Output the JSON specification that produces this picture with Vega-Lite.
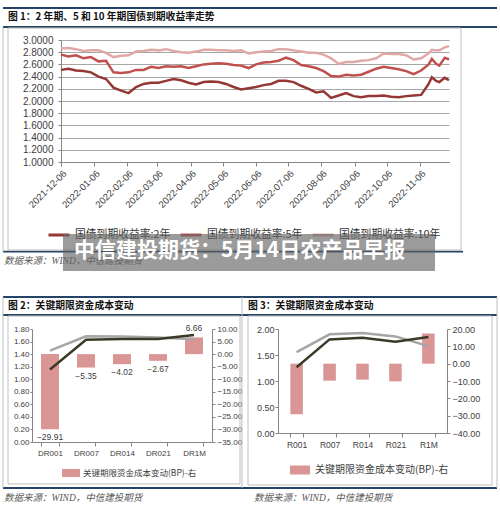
{
  "$schema": "https://vega.github.io/schema/vega-lite/v6.json",
  "background": "white",
  "padding": {"left": 2, "top": 7, "right": 0, "bottom": 0},
  "config": {
    "view": {"stroke": null},
    "axis": {"labelColor": "#404040", "labelFont": "Liberation Sans", "domainColor": "#868686", "tickColor": "#868686", "labelOverlap": false}
  },
  "bounds": "flush",
  "spacing": 289,
  "resolve": {"scale": {"color": "independent"}, "legend": {"color": "independent"}},
  "vconcat": [
    {
      "bounds": "flush",
      "spacing": 28,
      "resolve": {"scale": {"color": "independent"}, "legend": {"color": "independent"}},
      "hconcat": [
        {"width": 1, "height": 1, "data": {"values": []}, "mark": "point"},
        {
          "width": 388,
          "height": 122,
          "data": {"values": [
            {"date": "2021-12-06", "国债到期收益率:2年": 2.51, "国债到期收益率:5年": 2.76, "国债到期收益率:10年": 2.86},
            {"date": "2021-12-13", "国债到期收益率:2年": 2.53, "国债到期收益率:5年": 2.73, "国债到期收益率:10年": 2.87},
            {"date": "2021-12-20", "国债到期收益率:2年": 2.50, "国债到期收益率:5年": 2.75, "国债到期收益率:10年": 2.85},
            {"date": "2021-12-27", "国债到期收益率:2年": 2.49, "国债到期收益率:5年": 2.70, "国债到期收益率:10年": 2.82},
            {"date": "2022-01-03", "国债到期收益率:2年": 2.47, "国债到期收益率:5年": 2.72, "国债到期收益率:10年": 2.83},
            {"date": "2022-01-10", "国债到期收益率:2年": 2.40, "国债到期收益率:5年": 2.65, "国债到期收益率:10年": 2.83},
            {"date": "2022-01-17", "国债到期收益率:2年": 2.36, "国债到期收益率:5年": 2.66, "国债到期收益率:10年": 2.79},
            {"date": "2022-01-24", "国债到期收益率:2年": 2.22, "国债到期收益率:5年": 2.47, "国债到期收益率:10年": 2.72},
            {"date": "2022-01-31", "国债到期收益率:2年": 2.17, "国债到期收益率:5年": 2.46, "国债到期收益率:10年": 2.74},
            {"date": "2022-02-07", "国债到期收益率:2年": 2.13, "国债到期收益率:5年": 2.47, "国债到期收益率:10年": 2.75},
            {"date": "2022-02-14", "国债到期收益率:2年": 2.23, "国债到期收益率:5年": 2.51, "国债到期收益率:10年": 2.81},
            {"date": "2022-02-21", "国债到期收益率:2年": 2.28, "国债到期收益率:5年": 2.51, "国债到期收益率:10年": 2.82},
            {"date": "2022-02-28", "国债到期收益率:2年": 2.30, "国债到期收益率:5年": 2.56, "国债到期收益率:10年": 2.84},
            {"date": "2022-03-07", "国债到期收益率:2年": 2.30, "国债到期收益率:5年": 2.54, "国债到期收益率:10年": 2.83},
            {"date": "2022-03-14", "国债到期收益率:2年": 2.33, "国债到期收益率:5年": 2.57, "国债到期收益率:10年": 2.85},
            {"date": "2022-03-21", "国债到期收益率:2年": 2.36, "国债到期收益率:5年": 2.56, "国债到期收益率:10年": 2.82},
            {"date": "2022-03-28", "国债到期收益率:2年": 2.34, "国债到期收益率:5年": 2.57, "国债到期收益率:10年": 2.80},
            {"date": "2022-04-04", "国债到期收益率:2年": 2.30, "国债到期收益率:5年": 2.54, "国债到期收益率:10年": 2.79},
            {"date": "2022-04-11", "国债到期收益率:2年": 2.27, "国债到期收益率:5年": 2.57, "国债到期收益率:10年": 2.81},
            {"date": "2022-04-18", "国债到期收益率:2年": 2.31, "国债到期收益率:5年": 2.60, "国债到期收益率:10年": 2.84},
            {"date": "2022-04-25", "国债到期收益率:2年": 2.32, "国债到期收益率:5年": 2.61, "国债到期收益率:10年": 2.84},
            {"date": "2022-05-02", "国债到期收益率:2年": 2.31, "国债到期收益率:5年": 2.62, "国债到期收益率:10年": 2.83},
            {"date": "2022-05-09", "国债到期收益率:2年": 2.28, "国债到期收益率:5年": 2.61, "国债到期收益率:10年": 2.83},
            {"date": "2022-05-16", "国债到期收益率:2年": 2.23, "国债到期收益率:5年": 2.59, "国债到期收益率:10年": 2.82},
            {"date": "2022-05-23", "国债到期收益率:2年": 2.19, "国债到期收益率:5年": 2.58, "国债到期收益率:10年": 2.83},
            {"date": "2022-05-30", "国债到期收益率:2年": 2.21, "国债到期收益率:5年": 2.54, "国债到期收益率:10年": 2.78},
            {"date": "2022-06-06", "国债到期收益率:2年": 2.23, "国债到期收益率:5年": 2.60, "国债到期收益率:10年": 2.80},
            {"date": "2022-06-13", "国债到期收益率:2年": 2.26, "国债到期收益率:5年": 2.63, "国债到期收益率:10年": 2.81},
            {"date": "2022-06-20", "国债到期收益率:2年": 2.28, "国债到期收益率:5年": 2.64, "国债到期收益率:10年": 2.82},
            {"date": "2022-06-27", "国债到期收益率:2年": 2.33, "国债到期收益率:5年": 2.66, "国债到期收益率:10年": 2.85},
            {"date": "2022-07-04", "国债到期收益率:2年": 2.33, "国债到期收益率:5年": 2.71, "国债到期收益率:10年": 2.85},
            {"date": "2022-07-11", "国债到期收益率:2年": 2.31, "国债到期收益率:5年": 2.67, "国债到期收益率:10年": 2.83},
            {"date": "2022-07-18", "国债到期收益率:2年": 2.25, "国债到期收益率:5年": 2.59, "国债到期收益率:10年": 2.81},
            {"date": "2022-07-25", "国债到期收益率:2年": 2.20, "国债到期收益率:5年": 2.57, "国债到期收益率:10年": 2.79},
            {"date": "2022-08-01", "国债到期收益率:2年": 2.14, "国债到期收益率:5年": 2.54, "国债到期收益率:10年": 2.79},
            {"date": "2022-08-08", "国债到期收益率:2年": 2.16, "国债到期收益率:5年": 2.49, "国债到期收益率:10年": 2.76},
            {"date": "2022-08-15", "国债到期收益率:2年": 2.05, "国债到期收益率:5年": 2.41, "国债到期收益率:10年": 2.70},
            {"date": "2022-08-22", "国债到期收益率:2年": 2.09, "国债到期收益率:5年": 2.40, "国债到期收益率:10年": 2.61},
            {"date": "2022-08-29", "国债到期收益率:2年": 2.13, "国债到期收益率:5年": 2.43, "国债到期收益率:10年": 2.64},
            {"date": "2022-09-05", "国债到期收益率:2年": 2.08, "国债到期收益率:5年": 2.42, "国债到期收益率:10年": 2.64},
            {"date": "2022-09-12", "国债到期收益率:2年": 2.06, "国债到期收益率:5年": 2.43, "国债到期收益率:10年": 2.66},
            {"date": "2022-09-19", "国债到期收益率:2年": 2.08, "国债到期收益率:5年": 2.48, "国债到期收益率:10年": 2.67},
            {"date": "2022-09-26", "国债到期收益率:2年": 2.08, "国债到期收益率:5年": 2.53, "国债到期收益率:10年": 2.70},
            {"date": "2022-10-03", "国债到期收益率:2年": 2.09, "国债到期收益率:5年": 2.56, "国债到期收益率:10年": 2.78},
            {"date": "2022-10-10", "国债到期收益率:2年": 2.07, "国债到期收益率:5年": 2.54, "国债到期收益率:10年": 2.77},
            {"date": "2022-10-17", "国债到期收益率:2年": 2.06, "国债到期收益率:5年": 2.52, "国债到期收益率:10年": 2.77},
            {"date": "2022-10-24", "国债到期收益率:2年": 2.08, "国债到期收益率:5年": 2.49, "国债到期收益率:10年": 2.75},
            {"date": "2022-10-31", "国债到期收益率:2年": 2.09, "国债到期收益率:5年": 2.44, "国债到期收益率:10年": 2.68},
            {"date": "2022-11-07", "国债到期收益率:2年": 2.10, "国债到期收益率:5年": 2.50, "国债到期收益率:10年": 2.70},
            {"date": "2022-11-14", "国债到期收益率:2年": 2.28, "国债到期收益率:5年": 2.60, "国债到期收益率:10年": 2.78},
            {"date": "2022-11-17", "国债到期收益率:2年": 2.39, "国债到期收益率:5年": 2.69, "国债到期收益率:10年": 2.84},
            {"date": "2022-11-21", "国债到期收益率:2年": 2.33, "国债到期收益率:5年": 2.61, "国债到期收益率:10年": 2.83},
            {"date": "2022-11-24", "国债到期收益率:2年": 2.31, "国债到期收益率:5年": 2.58, "国债到期收益率:10年": 2.83},
            {"date": "2022-11-29", "国债到期收益率:2年": 2.38, "国债到期收益率:5年": 2.71, "国债到期收益率:10年": 2.88},
            {"date": "2022-12-03", "国债到期收益率:2年": 2.34, "国债到期收益率:5年": 2.68, "国债到期收益率:10年": 2.90}
          ]},
          "transform": [{"fold": ["国债到期收益率:2年", "国债到期收益率:5年", "国债到期收益率:10年"], "as": ["series", "value"]}],
          "mark": {"type": "line", "strokeWidth": 2.5},
          "encoding": {
            "x": {
              "field": "date", "type": "temporal",
              "scale": {"domain": [{"year": 2021, "month": 12, "date": 6, "utc": true}, {"year": 2022, "month": 12, "date": 3, "utc": true}]},
              "axis": {
                "title": null, "grid": false,
                "values": [
                  {"year": 2021, "month": 12, "date": 6, "utc": true},
                  {"year": 2022, "month": 1, "date": 6, "utc": true},
                  {"year": 2022, "month": 2, "date": 6, "utc": true},
                  {"year": 2022, "month": 3, "date": 6, "utc": true},
                  {"year": 2022, "month": 4, "date": 6, "utc": true},
                  {"year": 2022, "month": 5, "date": 6, "utc": true},
                  {"year": 2022, "month": 6, "date": 6, "utc": true},
                  {"year": 2022, "month": 7, "date": 6, "utc": true},
                  {"year": 2022, "month": 8, "date": 6, "utc": true},
                  {"year": 2022, "month": 9, "date": 6, "utc": true},
                  {"year": 2022, "month": 10, "date": 6, "utc": true},
                  {"year": 2022, "month": 11, "date": 6, "utc": true}
                ],
                "labelExpr": "utcFormat(datum.value, '%Y-%m-%d')",
                "labelAngle": -45, "labelFontSize": 9.5, "labelOverlap": false,
                "tickSize": 4, "labelPadding": 2
              }
            },
            "y": {
              "field": "value", "type": "quantitative",
              "scale": {"domain": [1, 3], "nice": false, "zero": false},
              "axis": {
                "title": null, "values": [1, 1.2, 1.4, 1.6, 1.8, 2, 2.2, 2.4, 2.6, 2.8, 3],
                "format": ".4f", "labelFontSize": 10, "tickSize": 3, "labelPadding": 5, "labelOverlap": false,
                "grid": true, "gridColor": "#a6a6a6"
              }
            },
            "color": {
              "field": "series", "type": "nominal",
              "scale": {"domain": ["国债到期收益率:2年", "国债到期收益率:5年", "国债到期收益率:10年"], "range": ["#953735", "#c0504d", "#e0a9a7"]},
              "legend": {
                "title": null, "orient": "none", "legendX": -14, "legendY": 183, "direction": "horizontal",
                "symbolType": "stroke", "symbolSize": 441, "symbolStrokeWidth": 3,
                "labelFont": "Noto Sans CJK SC", "labelFontSize": 10.8, "labelColor": "#333333",
                "columnPadding": 3, "labelOffset": 4, "padding": 0
              }
            }
          }
        }
      ]
    },
    {
      "bounds": "flush",
      "spacing": 66,
      "resolve": {"scale": {"color": "independent"}, "legend": {"color": "independent"}},
      "hconcat": [
        {
          "width": 180,
          "height": 113,
          "layer": [
            {
              "data": {"values": [
                {"cat": "DR001", "关键期限资金成本变动(BP)-右": -29.91, "prev": 1.455, "cur": 1.156},
                {"cat": "DR007", "关键期限资金成本变动(BP)-右": -5.35, "prev": 1.683, "cur": 1.629},
                {"cat": "DR014", "关键期限资金成本变动(BP)-右": -4.02, "prev": 1.680, "cur": 1.640},
                {"cat": "DR021", "关键期限资金成本变动(BP)-右": -2.67, "prev": 1.666, "cur": 1.639},
                {"cat": "DR1M", "关键期限资金成本变动(BP)-右": 6.66, "prev": 1.637, "cur": 1.703}
              ]},
              "transform": [{"fold": ["关键期限资金成本变动(BP)-右"], "as": ["series", "change"]}],
              "layer": [
                {
                  "layer": [
                    {
                      "mark": {"type": "bar"},
                      "encoding": {
                        "x": {"field": "cat", "type": "nominal", "scale": {"type": "band", "domain": ["DR001", "DR007", "DR014", "DR021", "DR1M"], "paddingInner": 0.5, "paddingOuter": 0.25}, "axis": {"title": null, "labelAngle": 0, "tickBand": "extent", "labelFontSize": 8, "tickSize": 4, "labelPadding": 3, "labelOverlap": false}},
                        "y": {"field": "change", "type": "quantitative", "scale": {"domain": [-35, 10], "nice": false, "zero": false}, "axis": {"title": null, "orient": "right", "values": [-35, -30, -25, -20, -15, -10, -5, 0, 5, 10], "format": ".2f", "labelFontSize": 8, "tickSize": 3, "labelPadding": 2, "labelOverlap": false, "grid": false}},
                        "color": {"field": "series", "type": "nominal", "scale": {"domain": ["关键期限资金成本变动(BP)-右"], "range": ["#d99694"]}, "legend": {"title": null, "orient": "none", "legendX": 30, "legendY": 135, "symbolType": "M-1,-0.45H1V0.45H-1Z", "symbolSize": 324, "symbolStrokeWidth": 0, "labelFont": "Noto Sans CJK SC", "labelFontSize": 8.5, "labelColor": "#404040", "labelOffset": 3, "padding": 0}}
                      }
                    },
                    {
                      "transform": [{"filter": "datum.change < 0"}],
                      "mark": {"type": "text", "baseline": "top", "dy": 4, "fontSize": 8.5, "font": "Liberation Sans", "color": "#404040"},
                      "encoding": {
                        "x": {"field": "cat", "type": "nominal", "scale": {"type": "band", "domain": ["DR001", "DR007", "DR014", "DR021", "DR1M"], "paddingInner": 0.5, "paddingOuter": 0.25}, "axis": {"title": null, "labelAngle": 0, "tickBand": "extent", "labelFontSize": 8, "tickSize": 4, "labelPadding": 3, "labelOverlap": false}},
                        "y": {"field": "change", "type": "quantitative", "axis": {"title": null, "orient": "right", "values": [-35, -30, -25, -20, -15, -10, -5, 0, 5, 10], "format": ".2f", "labelFontSize": 8, "tickSize": 3, "labelPadding": 2, "labelOverlap": false, "grid": false}},
                        "text": {"field": "change", "type": "quantitative", "format": ".2f"}
                      }
                    },
                    {
                      "transform": [{"filter": "datum.change > 0"}],
                      "mark": {"type": "text", "baseline": "bottom", "dy": -4, "fontSize": 8.5, "font": "Liberation Sans", "color": "#404040"},
                      "encoding": {
                        "x": {"field": "cat", "type": "nominal", "scale": {"type": "band", "domain": ["DR001", "DR007", "DR014", "DR021", "DR1M"], "paddingInner": 0.5, "paddingOuter": 0.25}, "axis": {"title": null, "labelAngle": 0, "tickBand": "extent", "labelFontSize": 8, "tickSize": 4, "labelPadding": 3, "labelOverlap": false}},
                        "y": {"field": "change", "type": "quantitative", "axis": {"title": null, "orient": "right", "values": [-35, -30, -25, -20, -15, -10, -5, 0, 5, 10], "format": ".2f", "labelFontSize": 8, "tickSize": 3, "labelPadding": 2, "labelOverlap": false, "grid": false}},
                        "text": {"field": "change", "type": "quantitative", "format": ".2f"}
                      }
                    }
                  ]
                },
                {
                  "layer": [
                    {
                      "mark": {"type": "line", "color": "#a6a6a6", "strokeWidth": 2.5},
                      "encoding": {
                        "x": {"field": "cat", "type": "nominal", "scale": {"type": "band", "domain": ["DR001", "DR007", "DR014", "DR021", "DR1M"], "paddingInner": 0.5, "paddingOuter": 0.25}, "axis": {"title": null, "labelAngle": 0, "tickBand": "extent", "labelFontSize": 8, "tickSize": 4, "labelPadding": 3, "labelOverlap": false}},
                        "y": {"field": "prev", "type": "quantitative", "scale": {"domain": [0, 1.8], "nice": false, "zero": false}, "axis": {"title": null, "orient": "left", "values": [0, 0.2, 0.4, 0.6, 0.8, 1, 1.2, 1.4, 1.6, 1.8], "format": ".2f", "labelFontSize": 8, "tickSize": 2, "labelPadding": 1, "labelOverlap": false, "grid": false}}
                      }
                    },
                    {
                      "mark": {"type": "line", "color": "#3b3a28", "strokeWidth": 2.5},
                      "encoding": {
                        "x": {"field": "cat", "type": "nominal", "scale": {"type": "band", "domain": ["DR001", "DR007", "DR014", "DR021", "DR1M"], "paddingInner": 0.5, "paddingOuter": 0.25}, "axis": {"title": null, "labelAngle": 0, "tickBand": "extent", "labelFontSize": 8, "tickSize": 4, "labelPadding": 3, "labelOverlap": false}},
                        "y": {"field": "cur", "type": "quantitative", "axis": {"title": null, "orient": "left", "values": [0, 0.2, 0.4, 0.6, 0.8, 1, 1.2, 1.4, 1.6, 1.8], "format": ".2f", "labelFontSize": 8, "tickSize": 2, "labelPadding": 1, "labelOverlap": false, "grid": false}}
                      }
                    }
                  ]
                }
              ],
              "resolve": {"scale": {"y": "independent"}}
            },
            {
              "data": {"values": [{}]},
              "layer": [
                {
                  "mark": {"type": "rule", "color": "#264467", "strokeWidth": 1.8, "clip": false},
                  "encoding": {
                    "x": {"datum": -0.8056, "type": "quantitative", "scale": {"domain": [0, 5], "nice": false, "zero": false}, "axis": null},
                    "x2": {"datum": 12.9167},
                    "y": {"datum": 6.913, "type": "quantitative", "scale": {"domain": [0, 1.8], "nice": false, "zero": false}, "axis": null}
                  }
                },
                {
                  "mark": {"type": "rule", "color": "#264467", "strokeWidth": 1.8, "clip": false},
                  "encoding": {
                    "x": {"datum": -0.8056, "type": "quantitative", "axis": null},
                    "x2": {"datum": 12.9167},
                    "y": {"datum": 6.6104, "type": "quantitative", "axis": null}
                  }
                },
                {
                  "mark": {"type": "rule", "color": "#264467", "strokeWidth": 1.8, "clip": false},
                  "encoding": {
                    "x": {"datum": -0.8056, "type": "quantitative", "axis": null},
                    "x2": {"datum": 11.9722},
                    "y": {"datum": 3.0312, "type": "quantitative", "axis": null}
                  }
                },
                {
                  "mark": {"type": "rule", "color": "#bfbfbf", "strokeWidth": 1, "clip": false},
                  "encoding": {
                    "x": {"datum": -0.8056, "type": "quantitative", "axis": null},
                    "y": {"datum": 6.6104, "type": "quantitative", "axis": null},
                    "y2": {"datum": 3.0312}
                  }
                },
                {
                  "mark": {"type": "rect", "fillOpacity": 0, "stroke": "#bfbfbf", "strokeWidth": 1, "clip": false},
                  "encoding": {
                    "x": {"datum": -0.6667, "type": "quantitative", "axis": null},
                    "x2": {"datum": 11.9167},
                    "y": {"datum": 6.5945, "type": "quantitative", "axis": null},
                    "y2": {"datum": 3.0583}
                  }
                },
                {
                  "mark": {"type": "text", "align": "left", "baseline": "middle", "font": "Noto Sans CJK SC", "fontWeight": "bold", "fontSize": 9.8, "color": "#111111", "clip": false},
                  "encoding": {
                    "x": {"datum": -0.6667, "type": "quantitative", "axis": null},
                    "y": {"datum": 6.7697, "type": "quantitative", "axis": null},
                    "text": {"value": "图 1：2 年期、5 和 10 年期国债到期收益率走势"}
                  }
                },
                {
                  "mark": {"type": "text", "align": "left", "baseline": "middle", "font": "Liberation Serif, Noto Sans CJK SC", "fontStyle": "italic", "fontSize": 9.5, "color": "#595959", "clip": false},
                  "encoding": {
                    "x": {"datum": -0.7778, "type": "quantitative", "axis": null},
                    "y": {"datum": 2.8831, "type": "quantitative", "axis": null},
                    "text": {"value": "数据来源：WIND，中信建投期货"}
                  }
                },
                {
                  "mark": {"type": "rule", "color": "#264467", "strokeWidth": 1.8, "clip": false},
                  "encoding": {
                    "x": {"datum": -0.8056, "type": "quantitative", "axis": null},
                    "x2": {"datum": 12.9167},
                    "y": {"datum": 2.3097, "type": "quantitative", "axis": null}
                  }
                },
                {
                  "mark": {"type": "rule", "color": "#264467", "strokeWidth": 1.8, "clip": false},
                  "encoding": {
                    "x": {"datum": -0.8056, "type": "quantitative", "axis": null},
                    "x2": {"datum": 12.9167},
                    "y": {"datum": 2.0229, "type": "quantitative", "axis": null}
                  }
                },
                {
                  "mark": {"type": "rule", "color": "#264467", "strokeWidth": 1.8, "clip": false},
                  "encoding": {
                    "x": {"datum": -0.8056, "type": "quantitative", "axis": null},
                    "x2": {"datum": 12.9167},
                    "y": {"datum": -0.7327, "type": "quantitative", "axis": null}
                  }
                },
                {
                  "mark": {"type": "rule", "color": "#bfbfbf", "strokeWidth": 1, "clip": false},
                  "encoding": {
                    "x": {"datum": 5.8333, "type": "quantitative", "axis": null},
                    "y": {"datum": 2.3097, "type": "quantitative", "axis": null},
                    "y2": {"datum": -0.7327}
                  }
                },
                {
                  "mark": {"type": "rule", "color": "#bfbfbf", "strokeWidth": 1, "clip": false},
                  "encoding": {
                    "x": {"datum": -0.8056, "type": "quantitative", "axis": null},
                    "y": {"datum": 2.3097, "type": "quantitative", "axis": null},
                    "y2": {"datum": -0.7327}
                  }
                },
                {
                  "mark": {"type": "rule", "color": "#bfbfbf", "strokeWidth": 1, "clip": false},
                  "encoding": {
                    "x": {"datum": 12.9167, "type": "quantitative", "axis": null},
                    "y": {"datum": 2.3097, "type": "quantitative", "axis": null},
                    "y2": {"datum": -0.7327}
                  }
                },
                {
                  "mark": {"type": "rect", "fillOpacity": 0, "stroke": "#bfbfbf", "strokeWidth": 1, "clip": false},
                  "encoding": {
                    "x": {"datum": -0.6667, "type": "quantitative", "axis": null},
                    "x2": {"datum": 5.7778},
                    "y": {"datum": 2.007, "type": "quantitative", "axis": null},
                    "y2": {"datum": -0.669}
                  }
                },
                {
                  "mark": {"type": "rect", "fillOpacity": 0, "stroke": "#bfbfbf", "strokeWidth": 1, "clip": false},
                  "encoding": {
                    "x": {"datum": 6.0, "type": "quantitative", "axis": null},
                    "x2": {"datum": 12.7778},
                    "y": {"datum": 2.007, "type": "quantitative", "axis": null},
                    "y2": {"datum": -0.685}
                  }
                },
                {
                  "mark": {"type": "text", "align": "left", "baseline": "middle", "font": "Noto Sans CJK SC", "fontWeight": "bold", "fontSize": 9.8, "color": "#111111", "clip": false},
                  "encoding": {
                    "x": {"datum": -0.6667, "type": "quantitative", "axis": null},
                    "y": {"datum": 2.1663, "type": "quantitative", "axis": null},
                    "text": {"value": "图 2：关键期限资金成本变动"}
                  }
                },
                {
                  "mark": {"type": "text", "align": "left", "baseline": "middle", "font": "Noto Sans CJK SC", "fontWeight": "bold", "fontSize": 9.8, "color": "#111111", "clip": false},
                  "encoding": {
                    "x": {"datum": 6.0, "type": "quantitative", "axis": null},
                    "y": {"datum": 2.1663, "type": "quantitative", "axis": null},
                    "text": {"value": "图 3：关键期限资金成本变动"}
                  }
                },
                {
                  "mark": {"type": "text", "align": "left", "baseline": "middle", "font": "Liberation Serif, Noto Sans CJK SC", "fontStyle": "italic", "fontSize": 9.5, "color": "#595959", "clip": false},
                  "encoding": {
                    "x": {"datum": -0.7778, "type": "quantitative", "axis": null},
                    "y": {"datum": -0.892, "type": "quantitative", "axis": null},
                    "text": {"value": "数据来源：WIND，中信建投期货"}
                  }
                },
                {
                  "mark": {"type": "text", "align": "left", "baseline": "middle", "font": "Liberation Serif, Noto Sans CJK SC", "fontStyle": "italic", "fontSize": 9.5, "color": "#595959", "clip": false},
                  "encoding": {
                    "x": {"datum": 6.1667, "type": "quantitative", "axis": null},
                    "y": {"datum": -0.892, "type": "quantitative", "axis": null},
                    "text": {"value": "数据来源：WIND，中信建投期货"}
                  }
                },
                {
                  "mark": {"type": "rect", "color": "#666666", "opacity": 0.65, "clip": false},
                  "encoding": {
                    "x": {"datum": 0.8611, "type": "quantitative", "axis": null},
                    "x2": {"datum": 11.1944},
                    "y": {"datum": 3.3131, "type": "quantitative", "axis": null},
                    "y2": {"datum": 2.7238}
                  }
                },
                {
                  "mark": {"type": "text", "align": "left", "baseline": "middle", "font": "Noto Sans CJK SC", "fontWeight": "bold", "fontSize": 21, "color": "#ffffff", "clip": false},
                  "encoding": {
                    "x": {"datum": 1.1667, "type": "quantitative", "axis": null},
                    "y": {"datum": 3.0424, "type": "quantitative", "axis": null},
                    "text": {"value": "中信建投期货：5月14日农产品早报"}
                  }
                }
              ]
            }
          ],
          "resolve": {"scale": {"x": "independent", "y": "independent"}}
        },
        {
          "width": 169,
          "height": 104,
          "data": {"values": [
            {"cat": "R001", "关键期限资金成本变动(BP)-右": -29.2, "prev": 1.556, "cur": 1.264},
            {"cat": "R007", "关键期限资金成本变动(BP)-右": -9.8, "prev": 1.898, "cur": 1.800},
            {"cat": "R014", "关键期限资金成本变动(BP)-右": -9.2, "prev": 1.922, "cur": 1.830},
            {"cat": "R021", "关键期限资金成本变动(BP)-右": -10.2, "prev": 1.858, "cur": 1.756},
            {"cat": "R1M", "关键期限资金成本变动(BP)-右": 17.4, "prev": 1.671, "cur": 1.845}
          ]},
          "transform": [{"fold": ["关键期限资金成本变动(BP)-右"], "as": ["series", "change"]}],
          "layer": [
            {
              "mark": {"type": "bar"},
              "encoding": {
                "x": {"field": "cat", "type": "nominal", "scale": {"type": "band", "domain": ["R001", "R007", "R014", "R021", "R1M"], "paddingInner": 0.62, "paddingOuter": 0.375}, "axis": {"title": null, "labelAngle": 0, "tickBand": "extent", "labelFontSize": 8.5, "tickSize": 4, "labelPadding": 3, "labelOverlap": false}},
                "y": {"field": "change", "type": "quantitative", "scale": {"domain": [-40, 20], "nice": false, "zero": false}, "axis": {"title": null, "orient": "right", "values": [-40, -30, -20, -10, 0, 10, 20], "format": ".2f", "labelFontSize": 9, "tickSize": 3, "labelPadding": 2, "labelOverlap": false, "grid": false}},
                "color": {"field": "series", "type": "nominal", "scale": {"domain": ["关键期限资金成本变动(BP)-右"], "range": ["#d99694"]}, "legend": {"title": null, "orient": "none", "legendX": 12, "legendY": 131, "symbolType": "M-1,-0.45H1V0.45H-1Z", "symbolSize": 400, "symbolStrokeWidth": 0, "labelFont": "Noto Sans CJK SC", "labelFontSize": 10, "labelColor": "#404040", "labelOffset": 5, "padding": 0}}
              }
            },
            {
              "layer": [
                {
                  "mark": {"type": "line", "color": "#a6a6a6", "strokeWidth": 2.5},
                  "encoding": {
                    "x": {"field": "cat", "type": "nominal", "scale": {"type": "band", "domain": ["R001", "R007", "R014", "R021", "R1M"], "paddingInner": 0.62, "paddingOuter": 0.375}, "axis": {"title": null, "labelAngle": 0, "tickBand": "extent", "labelFontSize": 8.5, "tickSize": 4, "labelPadding": 3, "labelOverlap": false}},
                    "y": {"field": "prev", "type": "quantitative", "scale": {"domain": [0, 2], "nice": false, "zero": false}, "axis": {"title": null, "orient": "left", "values": [0, 0.5, 1, 1.5, 2], "format": ".2f", "labelFontSize": 9, "tickSize": 3, "labelPadding": 1, "labelOverlap": false, "grid": false}}
                  }
                },
                {
                  "mark": {"type": "line", "color": "#3b3a28", "strokeWidth": 2.5},
                  "encoding": {
                    "x": {"field": "cat", "type": "nominal", "scale": {"type": "band", "domain": ["R001", "R007", "R014", "R021", "R1M"], "paddingInner": 0.62, "paddingOuter": 0.375}, "axis": {"title": null, "labelAngle": 0, "tickBand": "extent", "labelFontSize": 8.5, "tickSize": 4, "labelPadding": 3, "labelOverlap": false}},
                    "y": {"field": "cur", "type": "quantitative", "axis": {"title": null, "orient": "left", "values": [0, 0.5, 1, 1.5, 2], "format": ".2f", "labelFontSize": 9, "tickSize": 3, "labelPadding": 1, "labelOverlap": false, "grid": false}}
                  }
                }
              ]
            }
          ],
          "resolve": {"scale": {"y": "independent"}}
        }
      ]
    }
  ]
}
